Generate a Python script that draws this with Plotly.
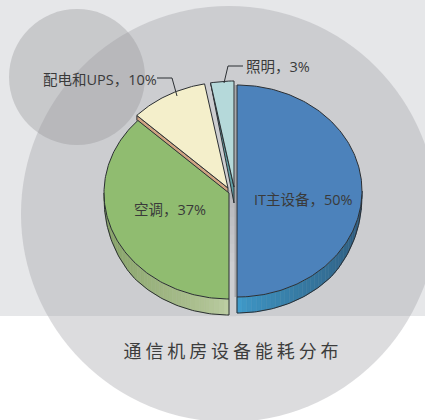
import numpy as np
import plotly.graph_objects as go

# ---- data ----
names = ["IT主设备", "空调", "配电和UPS", "照明"]
shares = [50, 37, 10, 3]
title_text = "通信机房设备能耗分布"

# ---- styling ----
top_colors = ["#4c82bb", "#90bc70", "#f4efcb", "#b5d9da"]
side_colors = [("#3f9bcb", "#2d5475"), ("#bccda2", "#7f9c60"), ("#d0a483", "#d0a483"), ("#5f9ea3", "#5f9ea3")]
centers = [(237, 191), (229, 193), (228, 188), (234, 187)]
RX, RY = 125, 106
DEPTH = 16
EDGE = "#2b2f33"
TXT = "#3a3a3a"

W, H = 425, 420
fig = go.Figure()


def pt(c, deg):
    t = np.radians(deg)
    return c[0] + RX * np.sin(t), c[1] - RY * np.cos(t)


def poly(xs, ys, fill, line=EDGE, w=1):
    fig.add_trace(go.Scatter(x=list(xs), y=list(ys), mode="lines", fill="toself", fillcolor=fill,
                             line=dict(color=line, width=w), hoverinfo="skip", showlegend=False))


def mix(a, b, f):
    ca = [int(a[i:i + 2], 16) for i in (1, 3, 5)]
    cb = [int(b[i:i + 2], 16) for i in (1, 3, 5)]
    return "rgb(%d,%d,%d)" % tuple(round(x + (y - x) * f) for x, y in zip(ca, cb))


def rim_depth(a):
    # the rim narrows to nothing at the left and right ends of the ellipse
    off = abs(a - 180)
    return DEPTH * min(1.0, ((90 - off) / 40) ** 0.5) if off < 90 else 0.0


# slice angle ranges, clockwise from 12 o'clock, taken from the shares
cum = np.cumsum([0] + shares) / sum(shares) * 360
a0 = cum[:-1]
a1 = cum[1:]

# soft shadow in the gap between the front slices
gap_y = np.linspace(190, 316, 15)
for k in range(len(gap_y) - 1):
    col = mix("#b6b7ba", "#cdced1", min(1, k / 8))
    poly([229, 236, 236, 229, 229], [gap_y[k], gap_y[k], gap_y[k + 1], gap_y[k + 1], gap_y[k]], col, line=col, w=0.5)
poly([235.5, 235.5], [centers[0][1] - RY, centers[0][1] + RY], "#a8a9ac", line="#a8a9ac", w=2)

# rim (side) faces of the two front slices, as short gradient strips
for i, (grad_start, grad_end) in ((0, (180, 90)), (1, (180, 270))):
    c = centers[i]
    n = 40
    edges = np.linspace(grad_start, grad_end, n + 1)
    for k in range(n):
        ang = np.linspace(edges[k], edges[k + 1], 4)
        xy = [pt(c, a) for a in ang]
        xs = [p[0] for p in xy]
        ys = [p[1] for p in xy]
        low = [y + rim_depth(a) for y, a in zip(ys, ang)]
        col = mix(side_colors[i][0], side_colors[i][1], min(1, (k / (n - 1)) ** 0.7))
        poly(xs + xs[::-1] + xs[:1], ys + low[::-1] + ys[:1], col, line=col, w=0.5)
    # outline of the rim
    ang = np.linspace(grad_start, grad_end, 80)
    xy = [pt(c, a) for a in ang]
    fig.add_trace(go.Scatter(x=[xy[0][0]] + [p[0] for p in xy],
                             y=[xy[0][1]] + [p[1] + rim_depth(a) for p, a in zip(xy, ang)],
                             mode="lines", line=dict(color=EDGE, width=1), hoverinfo="skip", showlegend=False))

# cut faces of the two back slices
c = centers[2]
p = pt(c, a0[2])
poly([c[0], p[0], p[0], c[0], c[0]], [c[1], p[1], p[1] + 5, c[1] + 5, c[1]], side_colors[2][0])
c = centers[3]
p = pt(c, a0[3])
poly([c[0], p[0], c[0], c[0]], [c[1], p[1], c[1] + 16, c[1]], side_colors[3][0])

# top faces
for i in range(len(shares)):
    c = centers[i]
    ang = np.linspace(a0[i], a1[i], max(int(a1[i] - a0[i]), 8))
    xy = [pt(c, a) for a in ang]
    poly([c[0]] + [q[0] for q in xy] + [c[0]], [c[1]] + [q[1] for q in xy] + [c[1]], top_colors[i])

# leader lines
LEADER = [([157, 172, 177], [78, 78, 96]), ([243, 228, 224], [66, 66, 83])]
for lx, ly in LEADER:
    fig.add_trace(go.Scatter(x=lx, y=ly, mode="lines", line=dict(color=EDGE, width=1),
                             hoverinfo="skip", showlegend=False))

FONT = "Open Sans, Noto Sans CJK SC"
labels = [f"{n}，{s}%" for n, s in zip(names, shares)]
label_pos = [(303.5, 199), (169.5, 209), (99.5, 79), (278, 66.5)]
annotations = [dict(x=x, y=y, xref="x", yref="y", text=t, showarrow=False, xanchor="center", yanchor="middle",
                    font=dict(family=FONT, size=14.5, color=TXT)) for t, (x, y) in zip(labels, label_pos)]
annotations.append(dict(x=232.5, y=351, xref="x", yref="y", text=title_text, showarrow=False, xanchor="center",
                        yanchor="middle", font=dict(family=FONT, size=18, color="#3c3c3c")))

shapes = [
    dict(type="rect", xref="x", yref="y", x0=0, x1=W, y0=0, y1=316, fillcolor="#e6e7e9", line_width=0, layer="below"),
    dict(type="circle", xref="x", yref="y", x0=21, x1=437, y0=6, y1=422, fillcolor="rgba(160,160,165,0.37)",
         line_width=0, layer="below"),
    dict(type="circle", xref="x", yref="y", x0=9, x1=145, y0=9, y1=145, fillcolor="rgba(150,150,153,0.37)",
         line_width=0, layer="below"),
]

fig.update_layout(
    width=W, height=H, margin=dict(l=0, r=0, t=0, b=0), paper_bgcolor="white", plot_bgcolor="white",
    xaxis=dict(range=[0, W], visible=False, fixedrange=True),
    yaxis=dict(range=[H, 0], visible=False, fixedrange=True),
    shapes=shapes, annotations=annotations, showlegend=False,
)

# page margin off; the title is letter-spaced in the reference
page_js = """
document.body.style.margin = '0';
document.body.style.overflow = 'hidden';
document.querySelectorAll('.annotation-text').forEach(function (t) {
  if (t.textContent.indexOf('通信') === 0) { t.style.letterSpacing = '3.9px'; }
});
"""
fig.write_html("out.html", post_script=page_js, config=dict(displayModeBar=False),
               default_width=W, default_height=H)
